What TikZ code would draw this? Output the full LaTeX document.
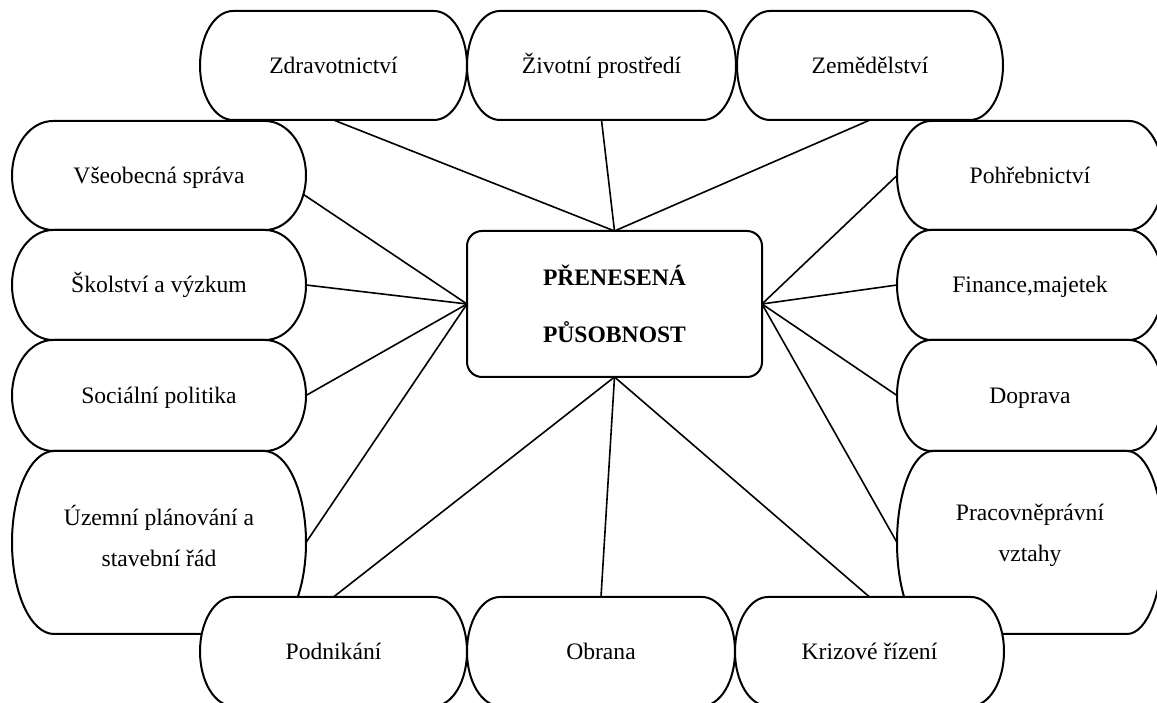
\documentclass[tikz,border=0pt]{standalone}
\usepackage{fontspec}
\setmainfont{Liberation Serif}
\usetikzlibrary{calc}
\pgfdeclarelayer{bg}
\pgfsetlayers{bg,main}
\tikzset{
  boxnode/.style={rectangle, inner sep=0pt, outer sep=0pt, align=center,
    font=\fontsize{23.6}{41}\selectfont, text height=15.6pt, text depth=0pt},
  twoline/.style={inner sep=0pt, outer sep=0pt, align=center,
    font=\fontsize{23.6}{41}\selectfont},
  boxline/.style={draw=black, line width=2pt, fill=white},
  centerbox/.style={rectangle, draw=black, line width=2pt, fill=white,
    rounded corners=15pt, inner sep=0pt, outer sep=0pt, align=center,
    minimum width=295pt, minimum height=146pt,
    font=\fontsize{23.6}{57}\selectfont\bfseries},
  conn/.style={draw=black, line width=1.6pt},
}
\newcommand\drawstadium[3]{%
  \path[boxline] ([xshift=#2pt]#1.north west) -- ([xshift=-#2pt]#1.north east)
    arc[start angle=90,end angle=0,x radius=#2pt,y radius=#3pt]
    -- ([yshift=#3pt]#1.south east)
    arc[start angle=0,end angle=-90,x radius=#2pt,y radius=#3pt]
    -- ([xshift=#2pt]#1.south west)
    arc[start angle=270,end angle=180,x radius=#2pt,y radius=#3pt]
    -- ([yshift=-#3pt]#1.north west)
    arc[start angle=180,end angle=90,x radius=#2pt,y radius=#3pt] -- cycle;
}
\begin{document}
\begin{tikzpicture}[x=1pt,y=1pt]
\useasboundingbox (0,0) rectangle (1157,703);
% top row
\node[boxnode, minimum width=267pt, minimum height=109pt] (zdr) at (333.5,637.5) {Zdravotnictví};
\node[boxnode, minimum width=269pt, minimum height=109pt] (ziv) at (601.5,637.5) {Životní prostředí};
\node[boxnode, minimum width=266pt, minimum height=109pt] (zem) at (870,637.5) {Zemědělství};
% left column
\node[boxnode, minimum width=294pt, minimum height=109pt] (vse) at (159,527.5) {Všeobecná správa};
\node[boxnode, minimum width=294pt, minimum height=110pt] (sko) at (159,418) {Školství a výzkum};
\node[boxnode, minimum width=294pt, minimum height=111pt] (soc) at (159,307.5) {Sociální politika};
\node[boxnode, minimum width=294pt, minimum height=183pt,
  label={[twoline, yshift=7pt]center:{Územní plánování a\\stavební řád}}] (uze) at (159,160.5) {};
% right column
\node[boxnode, minimum width=266pt, minimum height=109pt] (poh) at (1030,527.5) {Pohřebnictví};
\node[boxnode, minimum width=266pt, minimum height=110pt] (fin) at (1030,418) {Finance,majetek};
\node[boxnode, minimum width=266pt, minimum height=111pt] (dop) at (1030,307.5) {Doprava};
\node[boxnode, minimum width=266pt, minimum height=183pt,
  label={[twoline, yshift=7pt]center:{Pracovněprávní\\vztahy}}] (pra) at (1030,160.5) {};
% bottom row
\node[boxnode, minimum width=267pt, minimum height=109pt] (pod) at (333.5,51.5) {Podnikání};
\node[boxnode, minimum width=268pt, minimum height=109pt] (obr) at (601,51.5) {Obrana};
\node[boxnode, minimum width=269pt, minimum height=109pt] (kri) at (869.5,51.5) {Krizové řízení};
% outlines behind the texts
\begin{pgfonlayer}{bg}
  \fill[white] (0,0) rectangle (1157,703);
  \drawstadium{vse}{41}{54.5}
  \drawstadium{sko}{41}{55}
  \drawstadium{soc}{41}{55.5}
  \drawstadium{uze}{42}{91.5}
  \drawstadium{poh}{34}{54.5}
  \drawstadium{fin}{34}{55}
  \drawstadium{dop}{34}{55.5}
  \drawstadium{pra}{36}{91.5}
  \drawstadium{zdr}{33}{54.5}
  \drawstadium{ziv}{33}{54.5}
  \drawstadium{zem}{33}{54.5}
  \drawstadium{pod}{33}{54.5}
  \drawstadium{obr}{33}{54.5}
  \drawstadium{kri}{33}{54.5}
\end{pgfonlayer}
% centre
\node[centerbox] (c) at (614.5,399) {PŘENESENÁ\\PŮSOBNOST};
% connectors
\draw[conn] (zdr.south) -- (c.north);
\draw[conn] (ziv.south) -- (c.north);
\draw[conn] (zem.south) -- (c.north);
\draw[conn] ([xshift=-2.5pt,yshift=-19pt]vse.east) -- (c.west);
\draw[conn] (sko.east) -- (c.west);
\draw[conn] (soc.east) -- (c.west);
\draw[conn] (uze.east) -- (c.west);
\draw[conn] (poh.west) -- (c.east);
\draw[conn] (fin.west) -- (c.east);
\draw[conn] (dop.west) -- (c.east);
\draw[conn] (pra.west) -- (c.east);
\draw[conn] (pod.north) -- (c.south);
\draw[conn] (obr.north) -- (c.south);
\draw[conn] (kri.north) -- (c.south);
\end{tikzpicture}
\end{document}
